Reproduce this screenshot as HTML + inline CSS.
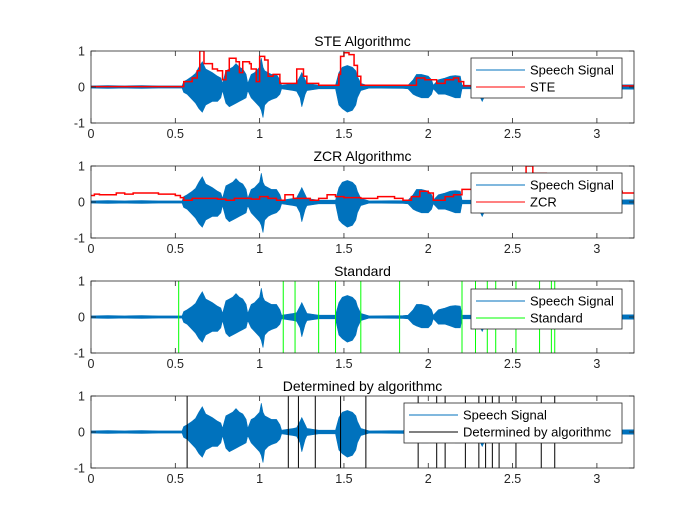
<!DOCTYPE html>
<html><head><meta charset="utf-8"><style>
body{margin:0;background:#fff}
svg{display:block;font-family:"Liberation Sans",sans-serif}
</style></head><body>
<svg id="fig" width="700" height="525" viewBox="0 0 700 525"></svg>
<script>
// ---- data ----
const envT   = [0,0.1,0.2,0.3,0.4,0.5,0.54,0.55,0.57,0.6,0.62,0.64,0.66,0.68,0.7,0.72,0.75,0.77,0.78,0.8,0.82,0.84,0.86,0.88,0.9,0.92,0.93,0.95,0.97,1.0,1.01,1.02,1.03,1.05,1.07,1.1,1.12,1.13,1.2,1.22,1.24,1.25,1.27,1.28,1.35,1.45,1.47,1.49,1.52,1.55,1.57,1.58,1.6,1.65,1.85,1.88,1.91,1.93,1.96,2.0,2.02,2.03,2.06,2.1,2.13,2.16,2.19,2.2,2.25,2.3,2.31,2.32,2.33,2.34,2.5,2.68,2.69,2.7,2.71,2.72,3.0,3.2,3.22];
const envTop = [0.03,0.04,0.03,0.04,0.03,0.03,0.03,0.15,0.2,0.3,0.38,0.55,0.7,0.5,0.45,0.4,0.3,0.25,0.1,0.45,0.5,0.55,0.65,0.55,0.5,0.35,0.1,0.35,0.4,0.55,0.8,0.55,0.45,0.4,0.35,0.35,0.2,0.05,0.1,0.12,0.3,0.4,0.2,0.1,0.05,0.05,0.4,0.55,0.6,0.55,0.45,0.3,0.1,0.03,0.04,0.05,0.2,0.35,0.35,0.3,0.2,0.05,0.2,0.25,0.3,0.32,0.3,0.05,0.05,0.05,0.05,0.05,0.05,0.05,0.05,0.05,0.05,0.05,0.05,0.05,0.05,0.06,0.06];
const envBot = [-0.03,-0.04,-0.03,-0.04,-0.03,-0.03,-0.03,-0.15,-0.2,-0.35,-0.45,-0.6,-0.7,-0.5,-0.45,-0.4,-0.4,-0.3,-0.1,-0.45,-0.55,-0.5,-0.45,-0.4,-0.35,-0.3,-0.1,-0.3,-0.4,-0.55,-0.65,-0.85,-0.5,-0.4,-0.35,-0.3,-0.2,-0.05,-0.1,-0.12,-0.3,-0.55,-0.2,-0.1,-0.05,-0.05,-0.5,-0.6,-0.7,-0.65,-0.5,-0.3,-0.1,-0.03,-0.04,-0.05,-0.2,-0.25,-0.3,-0.3,-0.2,-0.05,-0.2,-0.2,-0.25,-0.3,-0.3,-0.05,-0.05,-0.05,-0.3,-0.4,-0.3,-0.05,-0.05,-0.05,-0.25,-0.3,-0.25,-0.05,-0.05,-0.06,-0.06];
const steT = [0,0.54,0.55,0.6,0.63,0.645,0.67,0.72,0.75,0.78,0.8,0.82,0.86,0.88,0.9,0.94,0.95,0.98,1.0,1.03,1.05,1.08,1.12,1.2,1.22,1.26,1.28,1.35,1.45,1.47,1.48,1.5,1.53,1.56,1.58,1.6,1.9,1.93,1.98,2.05,2.1,2.15,2.18,2.21,3.22];
const steV = [0.01,0.01,0.15,0.25,0.45,1.0,0.65,0.5,0.45,0.2,0.45,0.8,0.7,0.4,0.7,0.65,0.5,0.15,0.85,0.75,0.3,0.35,0.1,0.1,0.5,0.3,0.1,0.05,0.05,0.35,0.85,0.95,0.9,0.6,0.3,0.05,0.05,0.25,0.2,0.1,0.2,0.25,0.15,0.03,0.02];
const zcrT = [0,0.02,0.05,0.15,0.2,0.25,0.4,0.5,0.53,0.55,0.6,0.75,0.8,0.85,0.95,1.0,1.05,1.1,1.15,1.2,1.3,1.35,1.4,1.45,1.5,1.6,1.7,1.8,1.85,1.9,1.95,2.0,2.03,2.1,2.15,2.2,2.25,2.4,2.58,2.62,2.7,3.1,3.15,3.22];
const zcrV = [0.18,0.22,0.2,0.25,0.22,0.25,0.22,0.18,0.12,0.05,0.1,0.08,0.05,0.1,0.08,0.15,0.1,0.05,0.2,0.1,0.05,0.1,0.2,0.15,0.12,0.1,0.15,0.1,0.05,0.15,0.3,0.25,0.05,0.15,0.2,0.35,0.35,0.3,1.0,0.8,0.5,0.3,0.25,0.25];
const stdLines = [0.52,1.14,1.21,1.35,1.45,1.6,1.83,2.2,2.28,2.35,2.4,2.52,2.66,2.73,2.75];
const algLines = [0.57,1.17,1.23,1.33,1.48,1.63,1.94,2.05,2.1,2.22,2.3,2.34,2.38,2.42,2.52,2.67,2.75];
const xTicks = [0,0.5,1,1.5,2,2.5,3];
const xTickLabels = ["0","0.5","1","1.5","2","2.5","3"];
const yTicks = [-1,0,1];
const yTickLabels = ["-1","0","1"];

// ---- layout ----
const NS="http://www.w3.org/2000/svg";
const svg=document.getElementById('fig');
const L=91,R=634,XMAX=3.22;
const X=t=>L+(t/XMAX)*(R-L);
function mk(tag,attrs,parent){const e=document.createElementNS(NS,tag);for(const k in attrs)e.setAttribute(k,attrs[k]);(parent||svg).appendChild(e);return e;}
const panels=[
 {top:51,title:"STE Algorithmc",name:"ste",leg:[471,58,151,40],labels:["Speech Signal","STE"],c2:"#ff0000"},
 {top:166,title:"ZCR Algorithmc",name:"zcr",leg:[471,173,151,40],labels:["Speech Signal","ZCR"],c2:"#ff0000"},
 {top:281,title:"Standard",name:"standard",leg:[471,289,151,40],labels:["Speech Signal","Standard"],c2:"#00ff00"},
 {top:396,title:"Determined by algorithmc",name:"determined",leg:[404,403,218,40],labels:["Speech Signal","Determined by algorithmc"],c2:"#000000"}
];
const H=72;
panels.forEach((p,i)=>{
  const g=mk('g',{});
  
  
  const Y=v=>p.top+H/2-v*(H/2);
  mk('rect',{x:L,y:p.top,width:R-L,height:H,fill:'#fff'},g);
  const cp=mk('clipPath',{id:'cp'+i},g);
  mk('rect',{x:L,y:p.top,width:R-L,height:H},cp);
  const pg=mk('g',{'clip-path':'url(#cp'+i+')'},g);
  let d='';
  envT.forEach((t,k)=>{d+=(k?'L':'M')+X(t).toFixed(1)+','+Y(envTop[k]).toFixed(1);});
  for(let k=envT.length-1;k>=0;k--) d+='L'+X(envT[k]).toFixed(1)+','+Y(envBot[k]).toFixed(1);
  const sig=mk('path',{d:d+'Z',fill:'#0072bd',stroke:'#0072bd','stroke-width':0.6},pg);
  
  
  if(i<2){
    const T=i==0?steT:zcrT,V=i==0?steV:zcrV;
    let s='';
    T.forEach((t,k)=>{ if(k==0) s='M'+X(t)+','+Y(V[k]); else s+='L'+X(t)+','+Y(V[k-1])+'L'+X(t)+','+Y(V[k]); });
    const ln=mk('path',{d:s,fill:'none',stroke:'#ff0000','stroke-width':1.5},pg);
    
    
  } else {
    const arr=i==2?stdLines:algLines;
    arr.forEach(t=>{
      const l=mk('line',{x1:X(t),x2:X(t),y1:p.top,y2:p.top+H,stroke:p.c2,'stroke-width':1},pg);
      
      
    });
  }
  mk('rect',{x:L,y:p.top,width:R-L,height:H,fill:'none',stroke:'#262626','stroke-width':0.8},g);
  xTicks.forEach((t,k)=>{
    mk('line',{x1:X(t),x2:X(t),y1:p.top+H,y2:p.top+H-5,stroke:'#262626','stroke-width':0.8},g);
    mk('line',{x1:X(t),x2:X(t),y1:p.top,y2:p.top+5,stroke:'#262626','stroke-width':0.8},g);
    const tx=mk('text',{x:X(t),y:p.top+H+15,'text-anchor':'middle','font-size':12.5,fill:'#262626'},g);
    tx.textContent=xTickLabels[k];
    
    
  });
  yTicks.forEach((v,k)=>{
    mk('line',{x1:L,x2:L+5,y1:Y(v),y2:Y(v),stroke:'#262626','stroke-width':0.8},g);
    mk('line',{x1:R,x2:R-5,y1:Y(v),y2:Y(v),stroke:'#262626','stroke-width':0.8},g);
    const ty=mk('text',{x:L-6,y:Y(v)+4.5,'text-anchor':'end','font-size':12.5,fill:'#262626'},g);
    ty.textContent=yTickLabels[k];
    
    
  });
  const tt=mk('text',{x:(L+R)/2,y:p.top-5,'text-anchor':'middle','font-size':14,fill:'#000'},g);
  tt.textContent=p.title;
  
  
  const [lx,ly,lw,lh]=p.leg;
  const lg=mk('g',{},g);
  
  
  mk('rect',{x:lx,y:ly,width:lw,height:lh,fill:'#fff',stroke:'#262626','stroke-width':0.8},lg);
  [['#0072bd',p.labels[0]],[p.c2,p.labels[1]]].forEach((e,k)=>{
    const yy=ly+12+k*17;
    mk('line',{x1:lx+5,x2:lx+54,y1:yy,y2:yy,stroke:e[0],'stroke-width':1},lg);
    const lt=mk('text',{x:lx+59,y:yy+4.5,'font-size':13,fill:'#000'},lg);
    lt.textContent=e[1];
    
    
  });
});
</script>
</body></html>
